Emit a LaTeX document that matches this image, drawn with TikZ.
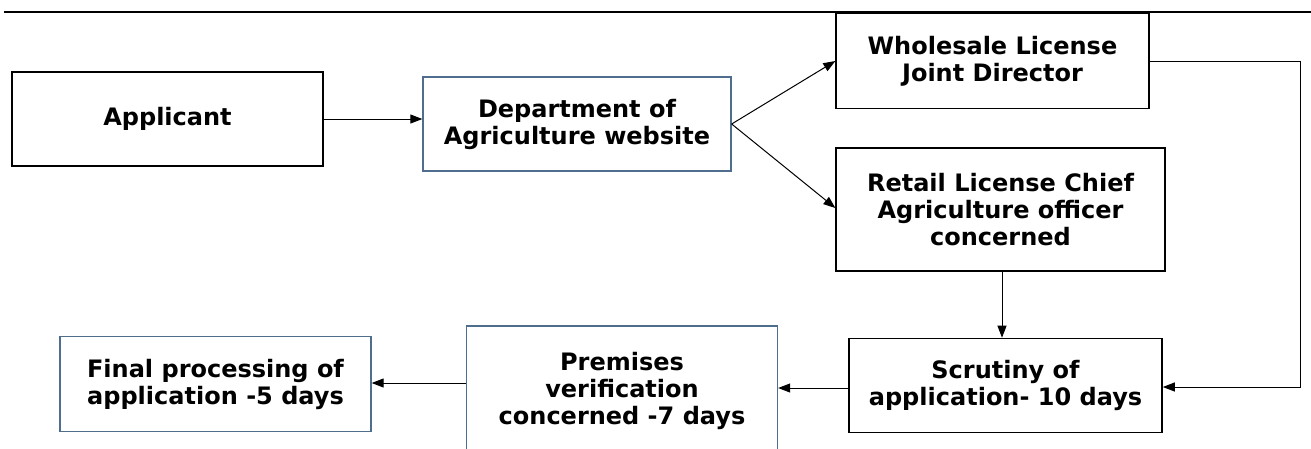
\documentclass[tikz,border=0pt]{standalone}
\usepackage{fontspec}
\setmainfont{DejaVu Sans}
\usetikzlibrary{arrows.meta}
\definecolor{bluegray}{HTML}{4F6E8E}
\begin{document}
\begin{tikzpicture}[x=1pt,y=-1pt,
  box/.style={draw=black,line width=1.3pt,fill=white,inner sep=0pt,align=center,
    font=\bfseries\fontsize{24}{27}\selectfont},
  bbox/.style={box,draw=bluegray,line width=1.3pt},
  conn/.style={line width=1pt,-{Triangle[length=12pt,width=9pt]}}]
\useasboundingbox (0,0) rectangle (1311,448);
\draw[line width=1.6pt] (4,12) -- (1311,12);
\node[box,minimum width=311pt,minimum height=94pt] (app) at (167.5,119) {Applicant};
\node[bbox,minimum width=308pt,minimum height=94pt] (dept) at (577,124) {Department of\\Agriculture website};
\node[box,minimum width=313pt,minimum height=95pt] (whole) at (992.5,61) {Wholesale License\\Joint Director};
\node[box,minimum width=329pt,minimum height=123pt] (retail) at (1000.5,209.5) {Retail License Chief\\Agriculture officer\\concerned};
\node[box,line width=1.6pt,minimum width=313pt,minimum height=94pt] (scr) at (1005.5,385.5) {Scrutiny of\\application- 10 days};
\node[bbox,minimum width=311pt,minimum height=130pt] (prem) at (622,391) {Premises\\verification\\concerned -7 days};
\node[bbox,minimum width=311pt,minimum height=95pt] (fin) at (215.5,384) {Final processing of\\application -5 days};
\coordinate (corner) at (1300,61);
\draw[conn] (app.east) -- (app.east -| dept.west);
\draw[conn] (dept.east) -- (whole.west);
\draw[conn] (dept.east) -- (retail.west |- 0,208);
\draw[conn] (retail.south -| 1002,0) -- (scr.north -| 1002,0);
\draw[conn] (whole.east) -- (corner) -- (corner |- 0,387) -- (scr.east |- 0,387);
\draw[conn] (scr.west |- 0,388) -- (prem.east |- 0,388);
\draw[conn] (prem.west |- 0,383) -- (fin.east |- 0,383);
\end{tikzpicture}
\end{document}
